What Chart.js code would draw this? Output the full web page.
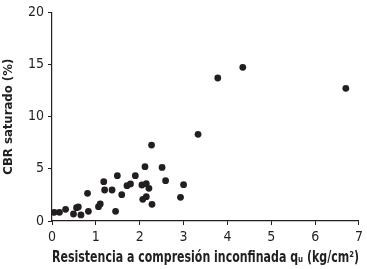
<!DOCTYPE html>
<html>
<head>
<meta charset="utf-8">
<script src="https://cdn.jsdelivr.net/npm/chart.js@4"></script>
<style>
  html, body { margin: 0; padding: 0; background: #fff; }
  #wrap { width: 367px; height: 269px; }
</style>
</head>
<body>
<div id="wrap"><canvas id="chart-cbr"></canvas></div>
<script>
// resistencia a compresión inconfinada qu (kg/cm2)
const quValues = [0.05, 0.17, 0.31, 0.49, 0.56, 0.60, 0.66, 0.81, 0.83, 1.06, 1.10,
  1.18, 1.20, 1.37, 1.45, 1.49, 1.59, 1.71, 1.79, 1.90, 2.05, 2.07, 2.12, 2.15,
  2.15, 2.21, 2.27, 2.28, 2.51, 2.59, 2.93, 3.00, 3.33, 3.78, 4.35, 6.70];
// CBR saturado (%)
const cbrValues = [0.83, 0.83, 1.12, 0.67, 1.28, 1.35, 0.58, 2.65, 0.93, 1.37, 1.63,
  3.77, 2.97, 2.97, 0.93, 4.35, 2.52, 3.39, 3.55, 4.35, 3.45, 2.08, 5.21, 3.58,
  2.33, 3.13, 7.28, 1.60, 5.14, 3.87, 2.27, 3.48, 8.31, 13.71, 14.73, 12.72];
const xTicks = [0, 1, 2, 3, 4, 5, 6, 7];
const yTicks = [0, 5, 10, 15, 20];

const ink = "#231f20";
const fontFamily = "'Liberation Sans Narrow', 'DejaVu Sans Condensed', sans-serif";

const points = quValues.map((q, i) => ({ x: q, y: cbrValues[i] }));

const ctx = document.getElementById("chart-cbr");
new Chart(ctx, {
  type: "scatter",
  data: {
    datasets: [
      {
        label: "CBR",
        data: points,
        pointRadius: 3.4,
        pointBorderWidth: 0,
        backgroundColor: ink,
        borderColor: ink,
      },
    ],
  },
  options: {
    responsive: true,
    maintainAspectRatio: false,
    animation: false,
    layout: { padding: { top: 9, right: 3, left: 0, bottom: 2 } },
    plugins: {
      legend: { display: false },
      tooltip: { enabled: false },
    },
    scales: {
      x: {
        type: "linear",
        min: xTicks[0],
        max: xTicks[xTicks.length - 1],
        afterBuildTicks: (axis) => {
          axis.ticks = xTicks.map((v) => ({ value: v }));
        },
        afterFit: (axis) => {
          axis.height = 46;
        },
        border: { display: true, color: ink, width: 1.2 },
        grid: { drawOnChartArea: false, drawTicks: true, tickLength: 4, color: ink },
        ticks: { color: ink, padding: 4, font: { family: fontFamily, size: 14 } },
        title: {
          display: true,
          text: "Resistencia a compresión inconfinada qᵤ (kg/cm²)",
          color: ink,
          padding: { top: 0, bottom: 0 },
          font: { family: fontFamily, size: 15.5, weight: "bold" },
        },
      },
      y: {
        type: "linear",
        min: yTicks[0],
        max: yTicks[yTicks.length - 1],
        afterBuildTicks: (axis) => {
          axis.ticks = yTicks.map((v) => ({ value: v }));
        },
        afterFit: (axis) => {
          axis.width = 52;
        },
        border: { display: true, color: ink, width: 1.2 },
        grid: { drawOnChartArea: false, drawTicks: true, tickLength: 4, color: ink },
        ticks: { color: ink, padding: 4, font: { family: fontFamily, size: 14 } },
        title: {
          display: true,
          text: "CBR saturado (%)",
          color: ink,
          padding: { top: 1, bottom: 0 },
          font: { family: fontFamily, size: 13, weight: "bold" },
        },
      },
    },
  },
});
</script>
</body>
</html>
